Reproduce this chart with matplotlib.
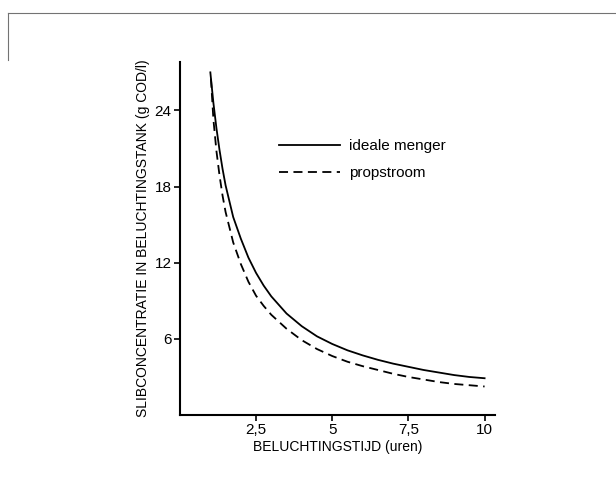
import matplotlib.pyplot as plt
from matplotlib.lines import Line2D

# beluchtingstijd (uren) en slibconcentratie (g COD/l)
t_ideaal = [1.0, 1.1, 1.2, 1.3, 1.4, 1.5, 1.75, 2.0, 2.25, 2.5, 2.75, 3.0, 3.5, 4.0, 4.5,
            5.0, 5.5, 6.0, 6.5, 7.0, 7.5, 8.0, 8.5, 9.0, 9.5, 10.0]
ideale_menger = [27.0, 24.6, 22.6, 20.9, 19.4, 18.1, 15.6, 13.9, 12.4, 11.2, 10.2, 9.35, 8.0, 7.0, 6.2,
                 5.6, 5.1, 4.7, 4.35, 4.05, 3.8, 3.55, 3.35, 3.15, 3.0, 2.9]

t_prop = [1.02, 1.1, 1.2, 1.3, 1.4, 1.5, 1.75, 2.0, 2.25, 2.5, 2.75, 3.0, 3.5, 4.0, 4.5,
          5.0, 5.5, 6.0, 6.5, 7.0, 7.5, 8.0, 8.5, 9.0, 9.5, 10.0]
propstroom = [26.5, 23.3, 20.8, 18.9, 17.3, 16.0, 13.6, 11.9, 10.5, 9.4, 8.6, 7.9, 6.8, 5.9, 5.2,
              4.65, 4.2, 3.85, 3.55, 3.25, 3.0, 2.8, 2.6, 2.45, 2.35, 2.25]

xticks = [2.5, 5, 7.5, 10]
xticklabels = ["2,5", "5", "7,5", "10"]
yticks = [6, 12, 18, 24]

plt.rcParams['font.family'] = ['Liberation Sans', 'DejaVu Sans']

fig = plt.figure(figsize=(6.16, 4.86), dpi=100)
ax = fig.add_axes([0.292, 0.146, 0.511, 0.726])

ax.plot(t_ideaal, ideale_menger, color='black', lw=1.3, label='ideale menger')
ax.plot(t_prop, propstroom, color='black', lw=1.3, ls=(0, (5, 3)), label='propstroom')

ax.set_xlim(0, 10.33)
ax.set_ylim(0, 27.8)
ax.set_xticks(xticks)
ax.set_xticklabels(xticklabels)
ax.set_yticks(yticks)
ax.tick_params(axis='both', labelsize=11, width=1.2, length=4, pad=2)

for s in ['top', 'right']:
    ax.spines[s].set_visible(False)
for s in ['left', 'bottom']:
    ax.spines[s].set_linewidth(1.5)

ax.set_xlabel("BELUCHTINGSTIJD (uren)", fontsize=10, labelpad=2)
ax.set_ylabel("SLIBCONCENTRATIE IN BELUCHTINGSTANK (g COD/l)", fontsize=10, labelpad=3)

ax.legend(loc='upper left', bbox_to_anchor=(0.27, 0.82), frameon=False,
          fontsize=11, handlelength=4.0, handletextpad=0.6, labelspacing=0.85)

# rand van de scan
fig.add_artist(Line2D([8 / 616, 1.0], [1 - 13 / 486, 1 - 13 / 486], color='0.45', lw=0.8,
                      transform=fig.transFigure))
fig.add_artist(Line2D([8 / 616, 8 / 616], [1 - 13 / 486, 1 - 60 / 486], color='0.45', lw=0.8,
                      transform=fig.transFigure))

fig.savefig('out.png', dpi=100)
